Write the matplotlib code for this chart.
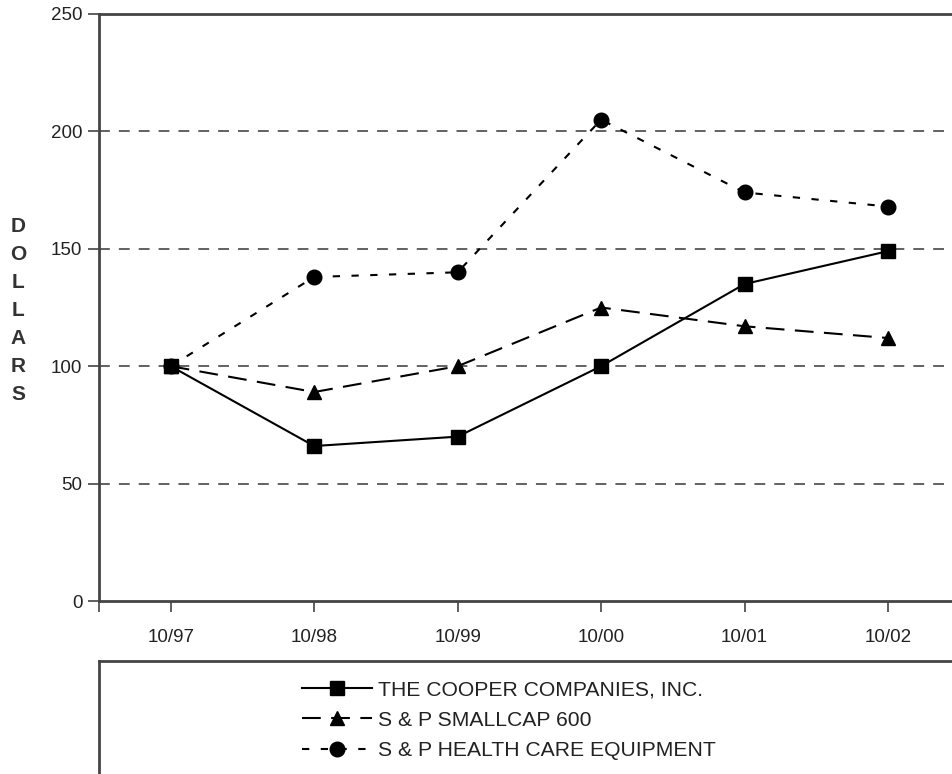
import matplotlib
matplotlib.use("Agg")
import matplotlib.pyplot as plt

years = ['10/97', '10/98', '10/99', '10/00', '10/01', '10/02']
cooper = [100, 66, 70, 100, 135, 149]
smallcap = [100, 89, 100, 125, 117, 112]
health = [100, 138, 140, 205, 174, 168]

plt.rcParams['font.family'] = ['Liberation Sans', 'DejaVu Sans']

fig = plt.figure(figsize=(9.53, 7.74), dpi=100)
ax = fig.add_axes([99 / 953, 1 - 601 / 774, 1 - 99 / 953, (601 - 14) / 774])

x = list(range(len(years)))
gray = '#444444'

for y in [50, 100, 150, 200]:
    ax.axhline(y, color='#555555', lw=1.3, dashes=(6, 5), zorder=1)

l1, = ax.plot(x, cooper, color='black', lw=1.5, marker='s', markersize=10.5,
              label='THE COOPER COMPANIES, INC.', zorder=3)
l2, = ax.plot(x, smallcap, color='black', lw=1.5, dashes=(9, 5), marker='^',
              markersize=10.5, label='S & P SMALLCAP 600', zorder=3)
l3, = ax.plot(x, health, color='black', lw=1.5, dashes=(3.5, 5.5), marker='o',
              markersize=10.5, label='S & P HEALTH CARE EQUIPMENT', zorder=3)

ax.set_xlim(-0.5, 5.453)
ax.set_ylim(0, 250)
ax.set_xticks([-0.5] + x)
ax.set_xticklabels([''] + years, fontsize=13.5, color='#222222')
ax.set_yticks([0, 50, 100, 150, 200, 250])
ax.tick_params(axis='y', direction='out', length=8, width=1.2, color=gray,
               labelsize=13.5, labelcolor='#222222', pad=4)
ax.tick_params(axis='x', direction='out', length=8, width=1.2, color=gray,
               pad=12)
for s in ['left', 'bottom', 'top']:
    ax.spines[s].set_color(gray)
    ax.spines[s].set_linewidth(2)
ax.spines['right'].set_visible(False)

fig.text(18 / 953, 1 - 310 / 774, '\n'.join('DOLLARS'), ha='center', va='center',
         fontsize=15, fontweight='bold', color='#333333', linespacing=1.6)

# legend box
lax = fig.add_axes([99 / 953, 0, 1 - 99 / 953, 1 - 661 / 774])
lax.set_xticks([])
lax.set_yticks([])
for s in ['right', 'bottom']:
    lax.spines[s].set_visible(False)
for s in ['left', 'top']:
    lax.spines[s].set_color(gray)
    lax.spines[s].set_linewidth(2)
lax.patch.set_alpha(0)

leg = fig.legend(handles=[l1, l2, l3], loc='upper left',
                 bbox_to_anchor=(302 / 953, 1 - 680 / 774), frameon=False,
                 fontsize=15.2, handlelength=3.3, handletextpad=0.3,
                 labelspacing=0.55, borderpad=0, borderaxespad=0)
for t in leg.get_texts():
    t.set_color('#222222')

fig.savefig('out.png', dpi=100)
